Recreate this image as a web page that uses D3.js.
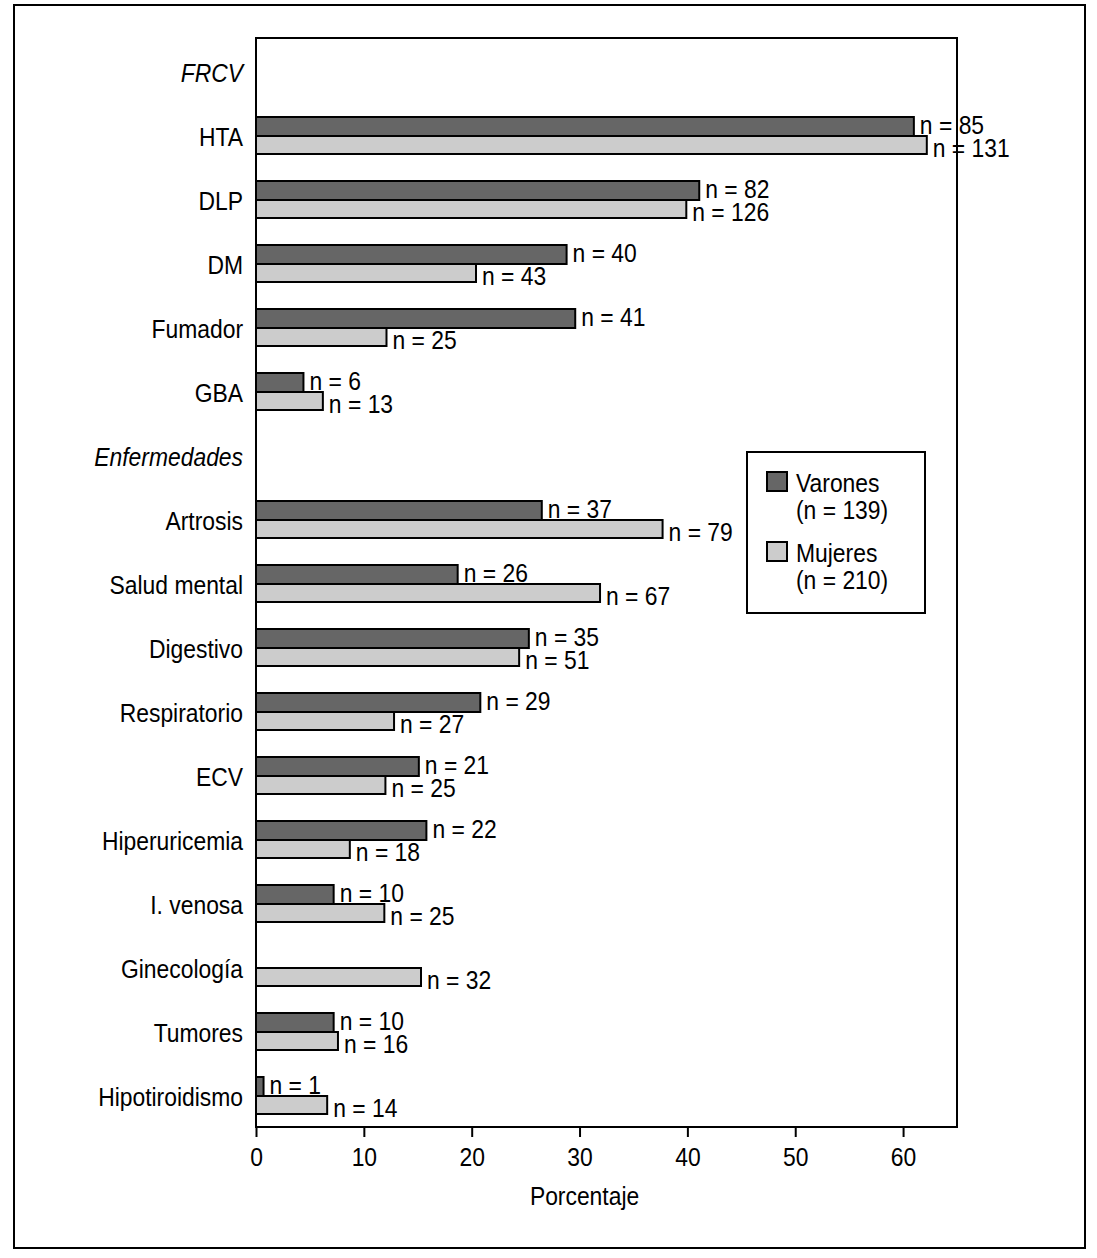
<!DOCTYPE html>
<html>
<head>
<meta charset="utf-8">
<script src="https://cdn.jsdelivr.net/npm/d3@7"></script>
<style>
  body { margin: 0; background: #fff; }
  text { font-family: "Liberation Sans", Arial, sans-serif; fill: #000; }
</style>
</head>
<body>
<div id="chart"></div>
<script>
const W = 1097, H = 1258
const categories = ["FRCV", "HTA", "DLP", "DM", "Fumador", "GBA", "Enfermedades",
    "Artrosis", "Salud mental", "Digestivo", "Respiratorio", "ECV", "Hiperuricemia",
    "I. venosa", "Ginecología", "Tumores", "Hipotiroidismo"]
const headers = ["FRCV", "Enfermedades"]

// porcentaje (null = sin barra)
const varones_pct = [null, 61.0, 41.1, 28.8, 29.6, 4.4, null,
    26.5, 18.7, 25.3, 20.8, 15.1, 15.8, 7.2, null, 7.2, 0.7]
const mujeres_pct = [null, 62.2, 39.9, 20.4, 12.1, 6.2, null,
    37.7, 31.9, 24.4, 12.8, 12.0, 8.7, 11.9, 15.3, 7.6, 6.6]
const varones_n = [null, 85, 82, 40, 41, 6, null, 37, 26, 35, 29, 21, 22, 10, null, 10, 1]
const mujeres_n = [null, 131, 126, 43, 25, 13, null, 79, 67, 51, 27, 25, 18, 25, 32, 16, 14]
const x_ticks = [0, 10, 20, 30, 40, 50, 60]
const legend_labels = [["Varones", "(n = 139)"], ["Mujeres", "(n = 210)"]]

const dark = "#666666", light = "#cccccc"
const fs = 26
const sx = 0.88   // estrechar la letra (tipo condensada)

const svg = d3.select("#chart").append("svg")
    .attr("width", W).attr("height", H)

// texto condensado colocado con transform
function put(sel, fx, fy) {
    sel.attr("x", 0).attr("y", 0)
        .attr("font-size", fs)
        .attr("transform", (d, i) => `translate(${typeof fx === "function" ? fx(d, i) : fx},${typeof fy === "function" ? fy(d, i) : fy}) scale(${sx},1)`)
    return sel
}

// marco exterior
svg.append("rect")
    .attr("x", 14).attr("y", 5).attr("width", 1071).attr("height", 1243)
    .attr("fill", "none").attr("stroke", "#000").attr("stroke-width", 2)

const plotLeft = 256, plotRight = 957, plotTop = 38, plotBottom = 1127
const x = d3.scaleLinear().domain([0, 65]).range([plotLeft, plotRight])
const y = d3.scaleBand().domain(categories).range([40, 1128])
const barH = 19

// marco del área del gráfico
svg.append("rect")
    .attr("x", plotLeft).attr("y", plotTop)
    .attr("width", plotRight - plotLeft).attr("height", plotBottom - plotTop)
    .attr("fill", "none").attr("stroke", "#000").attr("stroke-width", 2)

const rows = categories.map((c, i) => ({
    cat: c, v: varones_pct[i], m: mujeres_pct[i], vn: varones_n[i], mn: mujeres_n[i]
}))

const g = svg.append("g")
const center = d => y(d.cat) + y.bandwidth() / 2

g.selectAll(".bar-v").data(rows.filter(d => d.v != null)).join("rect")
    .attr("class", "bar-v")
    .attr("x", x(0)).attr("y", d => center(d) - barH)
    .attr("width", d => x(d.v) - x(0)).attr("height", barH)
    .attr("fill", dark).attr("stroke", "#000").attr("stroke-width", 2)

g.selectAll(".bar-m").data(rows.filter(d => d.m != null)).join("rect")
    .attr("class", "bar-m")
    .attr("x", x(0)).attr("y", d => center(d))
    .attr("width", d => x(d.m) - x(0)).attr("height", barH - 1)
    .attr("fill", light).attr("stroke", "#000").attr("stroke-width", 2)

put(g.selectAll(".lab-v").data(rows.filter(d => d.vn != null)).join("text")
    .attr("class", "lab-v"), d => x(d.v) + 6, d => center(d) - 2)
    .text(d => `n = ${d.vn}`)

put(g.selectAll(".lab-m").data(rows.filter(d => d.mn != null)).join("text")
    .attr("class", "lab-m"), d => x(d.m) + 6, d => center(d) + 21)
    .text(d => `n = ${d.mn}`)

// etiquetas de categoría
put(g.selectAll(".cat").data(categories).join("text")
    .attr("class", "cat"), plotLeft - 13, d => y(d) + y.bandwidth() / 2 + 10)
    .attr("text-anchor", "end")
    .style("font-style", d => headers.includes(d) ? "italic" : "normal")
    .text(d => d)

// eje x
const xAxis = svg.append("g")
    .attr("transform", `translate(0,${plotBottom})`)
    .call(d3.axisBottom(x).tickValues(x_ticks).tickSize(10).tickFormat(d3.format("d")))
xAxis.select(".domain").remove()
xAxis.selectAll(".tick line").attr("stroke-width", 2)
xAxis.selectAll(".tick text")
    .attr("y", 0).attr("dy", null).attr("font-size", fs)
    .attr("transform", `translate(0,39) scale(${sx},1)`)
    .style("font-family", '"Liberation Sans", Arial, sans-serif')

put(svg.append("text"), (x(0) + x(60)) / 2 + 5, 1205)
    .attr("text-anchor", "middle")
    .text("Porcentaje")

// leyenda
const lg = svg.append("g").attr("transform", "translate(747,452)")
lg.append("rect").attr("width", 178).attr("height", 161)
    .attr("fill", "#fff").attr("stroke", "#000").attr("stroke-width", 2)
const items = lg.selectAll(".item").data(legend_labels).join("g")
    .attr("transform", (d, i) => `translate(20,${20 + i * 70})`)
items.append("rect").attr("width", 20).attr("height", 19)
    .attr("fill", (d, i) => i === 0 ? dark : light)
    .attr("stroke", "#000").attr("stroke-width", 2)
put(items.append("text"), 29, 20).text(d => d[0])
put(items.append("text"), 29, 47).text(d => d[1])
</script>
</body>
</html>
